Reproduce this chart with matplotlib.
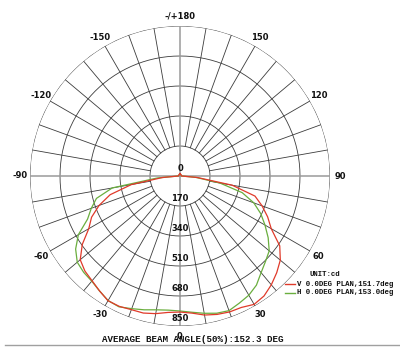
"""Polar light distribution curve (V / H planes) saved as out.png."""
import numpy as np
import matplotlib.pyplot as plt
from matplotlib.lines import Line2D

COLOR_V = "#e03a2a"
COLOR_H = "#6aae3e"
COLOR_GRID = "#3c3c3c"
COLOR_AXIS = "#9a9a9a"

# gamma angles (deg), 0 = straight down
ANGLES = [-180, -150, -120, -95,
          -90, -85, -80, -75, -70, -65, -60, -55, -50, -45, -40, -35, -30,
          -25, -20, -15, -10, -5, 0, 5, 10, 15, 20, 25, 30, 35, 40, 45, 50,
          55, 60, 65, 70, 75, 80, 85, 90,
          95, 120, 150, 180]

# intensity in cd
V_PLANE = [12, 10, 8, 8,
           10, 100, 280, 410, 488, 553, 597, 676, 738, 762, 775, 795, 816,
           815, 806, 804, 792, 776, 771, 780, 800, 812, 820, 822, 840, 830,
           805, 775, 742, 690, 597, 548, 495, 440, 300, 100, 10,
           8, 8, 10, 12]
H_PLANE = [12, 10, 8, 8,
           10, 130, 390, 490, 535, 578, 665, 722, 760, 772, 778, 795, 815,
           818, 800, 785, 770, 763, 765, 775, 790, 805, 812, 795, 780, 755,
           715, 685, 660, 610, 556, 505, 445, 365, 230, 90, 10,
           8, 8, 10, 12]

RINGS = [170, 340, 510, 680, 850]
ANGLE_LABELS = [0, 30, 60, 90, 120, 150, 180, -150, -120, -90, -60, -30]
R_MAX = 850
R_LABEL = 907

fig = plt.figure(figsize=(4.0, 3.51), dpi=100)
ax = fig.add_axes([30 / 400, 25 / 351, 300 / 400, 300 / 351], projection="polar")
ax.set_theta_zero_location("S")
ax.set_theta_direction(1)
ax.set_ylim(0, R_MAX)
ax.grid(False)
ax.set_xticks([])
ax.set_yticks([])
ax.spines["polar"].set_visible(False)

# rings
circle = np.linspace(0, 2 * np.pi, 361)
for r in RINGS:
    ax.plot(circle, np.full_like(circle, r), color=COLOR_GRID, lw=0.6)

# spokes every 10 deg, starting at the first ring
for a in range(0, 360, 10):
    if a % 90 == 0:
        continue
    t = np.deg2rad(a)
    ax.plot([t, t], [RINGS[0], R_MAX], color=COLOR_GRID, lw=0.6)

# main axes through the centre
for a in (0, 90, 180, 270):
    t = np.deg2rad(a)
    ax.plot([t, t], [0, R_MAX], color=COLOR_AXIS, lw=1.1)

theta = np.deg2rad(ANGLES)
ax.plot(theta, H_PLANE, color=COLOR_H, lw=0.9)
ax.plot(theta, V_PLANE, color=COLOR_V, lw=0.9)

# scale labels
lab = dict(fontsize=6, fontweight="bold", family="DejaVu Sans",
           ha="center", va="center", color="#111111")
ax.text(np.pi, 45, "0", **lab)
for r in RINGS:
    ax.text(0, r - 40, str(r), **lab)

for a in ANGLE_LABELS:
    txt = "-/+180" if a == 180 else str(a)
    ax.text(np.deg2rad(a), R_LABEL, txt, **lab)

# legend
mono = dict(family="Liberation Mono", fontweight="bold", color="#111111",
            va="center", fontsize=5.3)
fig.text(310 / 400, 1 - 275 / 351, "UNIT:cd", ha="left", **mono)
fig.add_artist(Line2D([285 / 400, 295 / 400], [1 - 284 / 351] * 2,
                      color=COLOR_V, lw=1))
fig.text(297 / 400, 1 - 284 / 351, "V 0.0DEG PLAN,151.7deg", ha="left", **mono)
fig.add_artist(Line2D([285 / 400, 295 / 400], [1 - 293 / 351] * 2,
                      color=COLOR_H, lw=1))
fig.text(297 / 400, 1 - 293 / 351, "H 0.0DEG PLAN,153.0deg", ha="left", **mono)

fig.text(193 / 400, 1 - 339 / 351, "AVERAGE BEAM ANGLE(50%):152.3 DEG",
         ha="center", family="Liberation Mono", fontweight="bold",
         color="#111111", va="center", fontsize=6.6)
fig.add_artist(Line2D([5 / 400, 1.0], [1 - 344.5 / 351] * 2,
                      color="#a0a0a0", lw=1))

fig.savefig("out.png", dpi=100)
